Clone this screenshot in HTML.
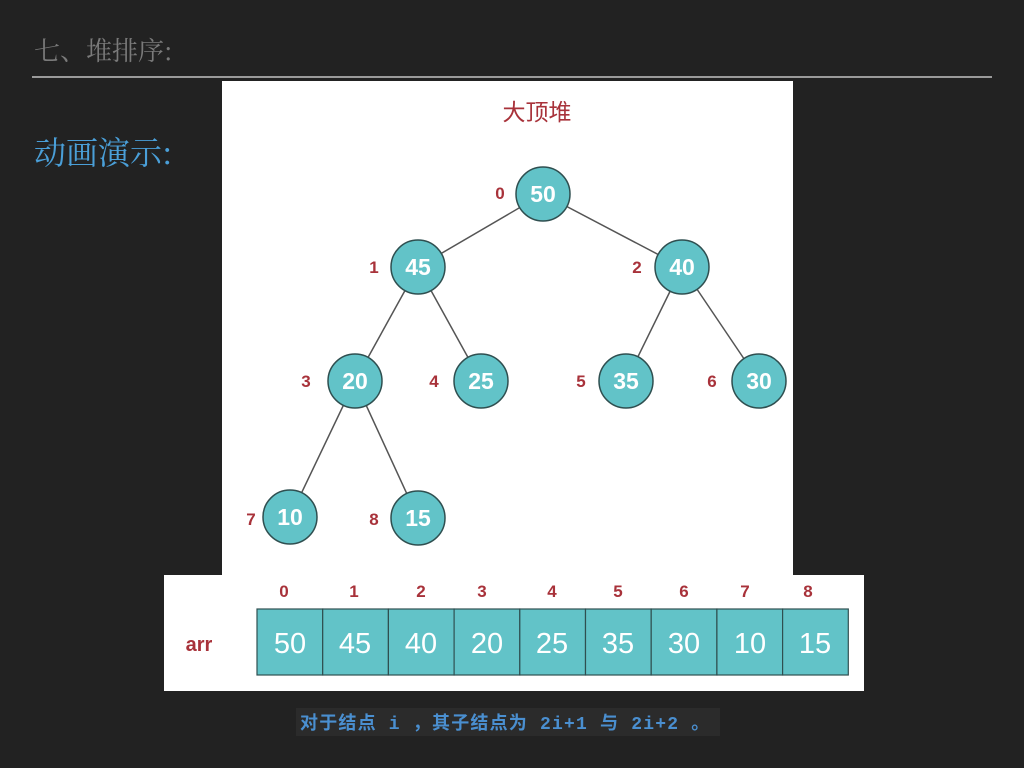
<!DOCTYPE html>
<html><head><meta charset="utf-8"><style>
html,body{margin:0;padding:0;background:#222;width:1024px;height:768px;overflow:hidden}
svg{display:block}
</style></head><body>
<svg width="1024" height="768" viewBox="0 0 1024 768" xmlns="http://www.w3.org/2000/svg">
<rect width="1024" height="768" fill="#222"/>
<text x="34" y="60" font-family="'Noto Serif CJK SC',serif" font-size="26" fill="#7a7a7a">七、堆排序:</text>
<rect x="32" y="76" width="960" height="2" fill="#9a9a9a"/>
<text x="34" y="164" font-family="'Noto Serif CJK SC',serif" font-size="32" fill="#4a9fd8">动画演示:</text>
<rect x="222" y="81" width="571" height="495" fill="#fff"/>
<rect x="164" y="575" width="700" height="116" fill="#fff"/>
<text x="537" y="120" text-anchor="middle" font-family="'Liberation Sans','Noto Sans CJK SC',sans-serif" font-size="23" fill="#a8323a">大顶堆</text>
<g stroke="#555" stroke-width="1.5">
<line x1="543" y1="194" x2="418" y2="267"/><line x1="543" y1="194" x2="682" y2="267"/>
<line x1="418" y1="267" x2="355" y2="381"/><line x1="418" y1="267" x2="481" y2="381"/>
<line x1="682" y1="267" x2="626" y2="381"/><line x1="682" y1="267" x2="759" y2="381"/>
<line x1="355" y1="381" x2="290" y2="517"/><line x1="355" y1="381" x2="418" y2="518"/>
</g>
<g fill="#62c3c8" stroke="#2f4f50" stroke-width="1.5">
<circle cx="543" cy="194" r="27"/><circle cx="418" cy="267" r="27"/><circle cx="682" cy="267" r="27"/>
<circle cx="355" cy="381" r="27"/><circle cx="481" cy="381" r="27"/><circle cx="626" cy="381" r="27"/>
<circle cx="759" cy="381" r="27"/><circle cx="290" cy="517" r="27"/><circle cx="418" cy="518" r="27"/>
</g>
<g font-family="'Liberation Sans',sans-serif" font-weight="bold" font-size="23" fill="#fff" text-anchor="middle">
<text x="543" y="202">50</text><text x="418" y="275">45</text><text x="682" y="275">40</text>
<text x="355" y="389">20</text><text x="481" y="389">25</text><text x="626" y="389">35</text>
<text x="759" y="389">30</text><text x="290" y="525">10</text><text x="418" y="526">15</text>
</g>
<g font-family="'Liberation Sans',sans-serif" font-weight="bold" font-size="17" fill="#a8323a" text-anchor="middle">
<text x="500" y="199">0</text><text x="374" y="273">1</text><text x="637" y="273">2</text>
<text x="306" y="387">3</text><text x="434" y="387">4</text><text x="581" y="387">5</text>
<text x="712" y="387">6</text><text x="251" y="525">7</text><text x="374" y="525">8</text>
<text x="284" y="597">0</text><text x="354" y="597">1</text><text x="421" y="597">2</text>
<text x="482" y="597">3</text><text x="552" y="597">4</text><text x="618" y="597">5</text>
<text x="684" y="597">6</text><text x="745" y="597">7</text><text x="808" y="597">8</text>
<text x="199" y="651" font-size="20">arr</text>
</g>
<g fill="#62c3c8" stroke="#2f4f50" stroke-width="1.2">
<rect x="257" y="609" width="65.7" height="66"/><rect x="322.7" y="609" width="65.7" height="66"/>
<rect x="388.4" y="609" width="65.7" height="66"/><rect x="454.1" y="609" width="65.7" height="66"/>
<rect x="519.8" y="609" width="65.7" height="66"/><rect x="585.5" y="609" width="65.7" height="66"/>
<rect x="651.2" y="609" width="65.7" height="66"/><rect x="716.9" y="609" width="65.7" height="66"/>
<rect x="782.6" y="609" width="65.7" height="66"/>
</g>
<g font-family="'Liberation Sans',sans-serif" font-size="29" fill="#fff" text-anchor="middle">
<text x="290" y="653">50</text><text x="355" y="653">45</text><text x="421" y="653">40</text>
<text x="487" y="653">20</text><text x="552" y="653">25</text><text x="618" y="653">35</text>
<text x="684" y="653">30</text><text x="750" y="653">10</text><text x="815" y="653">15</text>
</g>
<rect x="296" y="708" width="424" height="28" fill="#2b2b2b"/>
<text x="300" y="729" font-family="'Liberation Mono','Noto Sans CJK SC',monospace" font-weight="bold" font-size="18" letter-spacing="1.2" fill="#4a8fd0">对于结点 i ，其子结点为 2i+1 与 2i+2 。</text>
</svg>
</body></html>
